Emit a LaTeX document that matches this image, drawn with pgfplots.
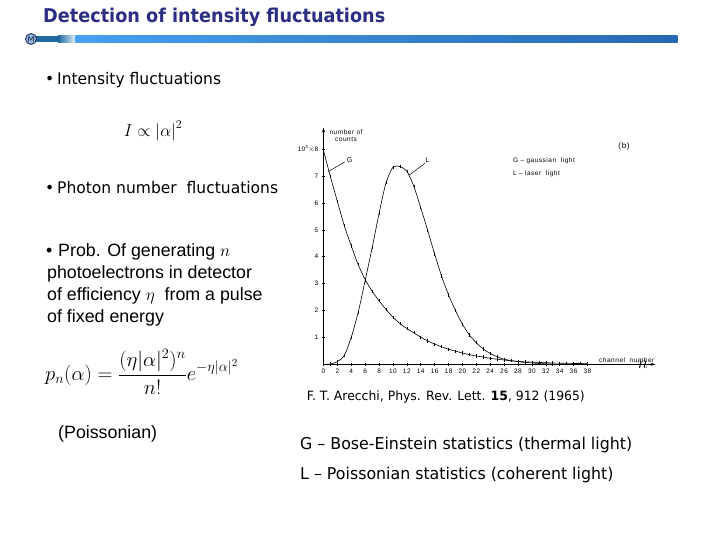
\documentclass[border=0pt]{standalone}
\usepackage{pgfplots}
\pgfplotsset{compat=1.18}
\usepackage{fontspec}
\setmainfont{Liberation Sans}
\newfontfamily\tahoma[FakeStretch=0.97, Ligatures=TeX]{DejaVu Sans}
\newfontfamily\tahomatitle[FakeStretch=0.93]{DejaVu Sans Bold}
\newfontfamily\chartfont[LetterSpace=8]{Liberation Sans}
\usetikzlibrary{arrows.meta}
\definecolor{titlecol}{RGB}{43,46,130}
\definecolor{bardark}{RGB}{30,105,160}
\definecolor{barfade}{RGB}{220,236,248}
\definecolor{barleft}{RGB}{70,160,240}
\definecolor{barright}{RGB}{40,104,178}
\definecolor{logofill}{RGB}{150,180,215}
\definecolor{logoline}{RGB}{20,40,80}
\pgfplotstableread{
n y
0 7.95
1 6.97
2 6.05
3 5.15
4 4.40
5 3.70
6 3.15
7 2.72
8 2.36
9 2.04
10 1.75
11 1.52
12 1.33
13 1.17
14 1.01
15 0.87
16 0.75
17 0.65
18 0.56
19 0.49
20 0.42
21 0.36
22 0.31
23 0.27
24 0.22
25 0.19
26 0.16
27 0.13
28 0.11
29 0.09
30 0.08
31 0.07
32 0.06
33 0.05
34 0.04
35 0.04
36 0.03
37 0.03
38 0.02
}\gdata
\pgfplotstableread{
n y
0 0.00
1 0.01
2 0.10
3 0.33
4 1.01
5 1.94
6 3.12
7 4.33
8 5.61
9 6.75
10 7.33
11 7.35
12 7.18
13 6.62
14 5.82
15 4.98
16 4.10
17 3.28
18 2.58
19 2.00
20 1.49
21 1.09
22 0.80
23 0.57
24 0.40
25 0.28
26 0.19
27 0.14
28 0.10
29 0.07
30 0.05
31 0.03
32 0.02
33 0.01
}\ldata
\begin{document}
\begin{tikzpicture}[x=1bp,y=-1bp]
\path[use as bounding box, fill=white] (0,0) rectangle (720,540);
\coordinate (O) at (323.5,364.3);
% title
\node[anchor=base west, inner sep=0, text=titlecol, font=\tahomatitle\fontsize{19bp}{22bp}\selectfont] at (43,23) {Detection of intensity fluctuations};
% header bar
\fill[bardark] (33,36) rectangle (58,42.5);
\shade[left color=bardark, right color=barfade] (58,36) rectangle (75,42.5);
\shade[left color=barleft, right color=barright] (75.7,36) rectangle (677.7,42.5);
\draw[fill=logofill, draw=logoline, line width=0.8bp] (31,39) circle[radius=5.5bp];
\draw[logoline, line width=0.6bp] (28.3,42) -- (28.8,36.3) -- (31,40) -- (33.2,36.3) -- (33.7,42);
% left texts
\node[anchor=base west, inner sep=0, font=\tahoma\fontsize{16bp}{19bp}\selectfont] at (45,85) {\textbullet};
\node[anchor=base west, inner sep=0, font=\tahoma\fontsize{16bp}{19bp}\selectfont] at (57,85) {Intensity fluctuations};
\node[inner sep=0, font=\fontsize{18bp}{20bp}\selectfont] at (153,131) {$I \propto \left|\alpha\right|^2$};
\node[anchor=base west, inner sep=0, font=\tahoma\fontsize{16bp}{19bp}\selectfont] at (45,194) {\textbullet};
\node[anchor=base west, inner sep=0, font=\tahoma\fontsize{16bp}{19bp}\selectfont] at (57,194) {Photon number\ \ fluctuations};
\node[anchor=base west, inner sep=0, font=\fontsize{17.8bp}{20bp}\selectfont] at (46,257) {\textbullet};
\node[anchor=base west, inner sep=0, font=\fontsize{17.8bp}{20bp}\selectfont] at (58,257) {Prob. Of generating $n$};
\node[anchor=base west, inner sep=0, font=\fontsize{17.8bp}{20bp}\selectfont] at (47,279) {photoelectrons in detector};
\node[anchor=base west, inner sep=0, font=\fontsize{17.8bp}{20bp}\selectfont] at (47,300.5) {of efficiency $\eta$\ \ from a pulse};
\node[anchor=base west, inner sep=0, font=\fontsize{17.8bp}{20bp}\selectfont] at (47,322) {of fixed energy};
\node[anchor=west, inner sep=0, font=\fontsize{22.5bp}{24bp}\selectfont] at (45,372) {$\displaystyle p_n(\alpha) = \frac{(\eta|\alpha|^2)^n}{n!}e^{-\eta|\alpha|^2}$};
\node[anchor=base west, inner sep=0, font=\fontsize{17.8bp}{20bp}\selectfont] at (58,438.3) {(Poissonian)};
% right texts
\node[anchor=base west, inner sep=0, font=\tahoma\fontsize{12.8bp}{15bp}\selectfont] at (306.7,400.7) {F. T. Arecchi, Phys. Rev. Lett. \textbf{15}, 912 (1965)};
\node[anchor=base west, inner sep=0, font=\tahoma\fontsize{16.3bp}{18bp}\selectfont] at (300,449.3) {G \textendash{} Bose-Einstein statistics (thermal light)};
\node[anchor=base west, inner sep=0, font=\tahoma\fontsize{16.3bp}{18bp}\selectfont] at (300,479.3) {L \textendash{} Poissonian statistics (coherent light)};
% chart
\begin{axis}[
  at={(O)}, anchor=south west,
  scale only axis, width=332bp, height=236.7bp,
  xmin=0, xmax=47.8, ymin=0, ymax=8.8,
  axis lines=left,
  axis line style={line width=0.6bp, -{Stealth[length=5bp,width=3bp]}},
  xtick={0,2,...,38}, ytick={1,2,...,8},
  yticklabels={1,2,3,4,5,6,7,{10\textsuperscript{3}$\times$8}},
  tick align=center, major tick length=3.5bp,
  tick style={line width=0.5bp, black},
  tick label style={font=\chartfont\fontsize{6.5bp}{7bp}\selectfont},
  x tick label style={yshift=1bp},
  /pgf/number format/assume math mode=true,
  clip=false,
]
\addplot[black, line width=0.6bp, smooth, tension=0.45, mark=|, mark size=1.6bp, mark options={solid, line width=0.5bp}] table[x=n, y=y] {\gdata};
\addplot[black, line width=0.6bp, smooth, tension=0.45, mark=|, mark size=1.6bp, mark options={solid, line width=0.5bp}] table[x=n, y=y] {\ldata};
\draw[line width=0.5bp] (axis cs:0.65,7.16) -- (axis cs:3.09,7.53);
\draw[line width=0.5bp] (axis cs:12.35,7.04) -- (axis cs:14.6,7.47);
\node[font=\chartfont\fontsize{7bp}{8bp}\selectfont, inner sep=0] at (axis cs:3.75,7.6) {G};
\node[font=\chartfont\fontsize{7bp}{8bp}\selectfont, inner sep=0] at (axis cs:15.0,7.6) {L};
\end{axis}
% chart annotations
\node[font=\chartfont\fontsize{6.5bp}{7bp}\selectfont, inner sep=0, align=center] at (346,136) {number of\\counts};
\node[font=\chartfont\fontsize{8bp}{9bp}\selectfont, inner sep=0] at (624,146) {(b)};
\node[anchor=west, font=\chartfont\fontsize{6.5bp}{7bp}\selectfont, inner sep=0] at (513,161) {G \textendash{} gaussian\ \ light};
\node[anchor=west, font=\chartfont\fontsize{6.5bp}{7bp}\selectfont, inner sep=0] at (513,174) {L \textendash{} laser\ \ light};
\node[anchor=west, font=\chartfont\fontsize{6.5bp}{7bp}\selectfont, inner sep=0] at (599,360.5) {channel\ \ number};
\node[inner sep=0, font=\fontsize{18bp}{18bp}\selectfont] at (643,365) {$n$};
\end{tikzpicture}
\end{document}
